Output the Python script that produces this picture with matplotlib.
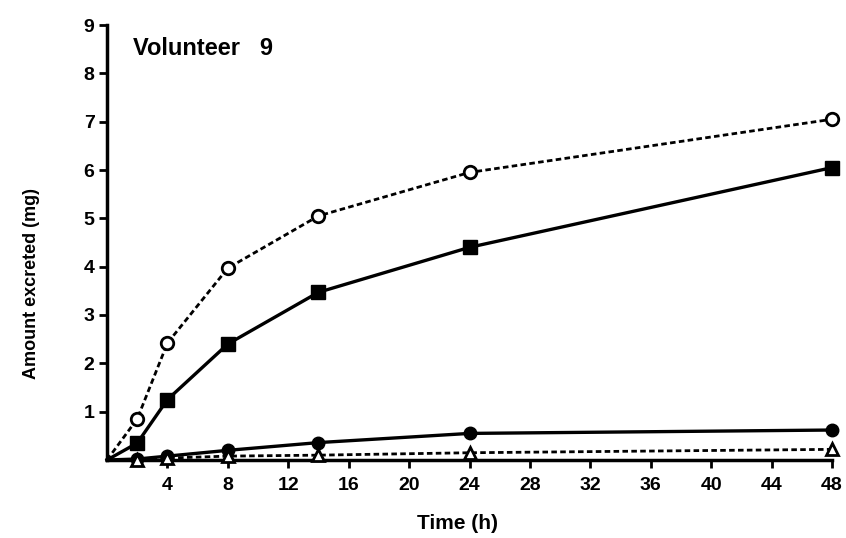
import numpy as np
import matplotlib
matplotlib.use("Agg")
import matplotlib.pyplot as plt

plt.rcParams["font.family"] = ["Liberation Sans", "DejaVu Sans"]
plt.rcParams["font.weight"] = "bold"

# data (time in h, amount in mg)
time = [0, 2, 4, 8, 14, 24, 48]
open_circle = [0, 0.85, 2.42, 3.97, 5.05, 5.95, 7.05]
filled_square = [0, 0.35, 1.25, 2.4, 3.47, 4.4, 6.05]
filled_circle = [0, 0.02, 0.08, 0.2, 0.36, 0.55, 0.62]
open_triangle = [0, 0.0, 0.04, 0.08, 0.1, 0.15, 0.22]

xticks = list(range(4, 49, 4))
yticks = list(range(1, 10))

fig = plt.figure(figsize=(8.46, 5.38), dpi=100)
ax = fig.add_axes([0.1265, 0.145, 0.857, 0.8085])

# lines start at the origin, but no marker is drawn there
marks = list(range(1, len(time)))
dot = (0, (2.0, 1.2))
ax.plot(time, open_circle, ls=dot, color="black", lw=2, markevery=marks,
        marker="o", mfc="white", mec="black", mew=2, ms=9, clip_on=False, zorder=4)
ax.plot(time, filled_square, ls="-", color="black", lw=2.4, markevery=marks,
        marker="s", mfc="black", mec="black", ms=10, clip_on=False, zorder=4)
ax.plot(time, filled_circle, ls="-", color="black", lw=2.4, markevery=marks,
        marker="o", mfc="black", mec="black", ms=9, clip_on=False, zorder=4)
ax.plot(time, open_triangle, ls=dot, color="black", lw=2, markevery=marks,
        marker="^", mfc="white", mec="black", mew=2, ms=8, clip_on=False, zorder=4)

ax.set_xlim(0, 48)
ax.set_ylim(0, 9)
ax.set_xticks(xticks)
ax.set_yticks(yticks)
ax.tick_params(axis="both", direction="out", width=2, length=6, labelsize=14, colors="black")
ax.tick_params(axis="x", pad=6)
ax.tick_params(axis="y", pad=3)

for s in ["top", "right"]:
    ax.spines[s].set_visible(False)
for s in ["left", "bottom"]:
    ax.spines[s].set_linewidth(2.5)

ax.set_xlabel("Time (h)", fontsize=15, fontweight="bold")
ax.set_ylabel("Amount excreted (mg)", fontsize=13, fontweight="bold")
ax.xaxis.set_label_coords(0.483, -0.124)
ax.yaxis.set_label_coords(-0.092, 0.405)
ax.text(1.7, 8.52, "Volunteer   9", fontsize=17, fontweight="bold", va="center")

fig.savefig("out.png", dpi=100)
